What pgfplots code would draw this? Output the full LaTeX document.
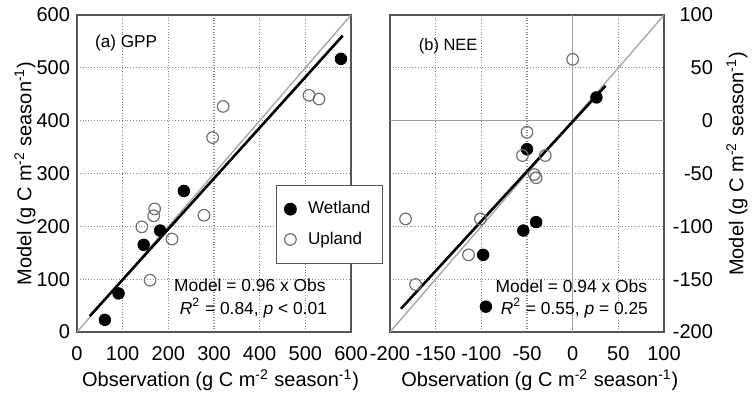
\documentclass[border=0pt]{standalone}
\usepackage{fontspec}
\setmainfont{Liberation Sans}
\usepackage{pgfplots}
\pgfplotsset{compat=1.18}
\definecolor{axgray}{HTML}{555555}
\definecolor{gridgray}{HTML}{8A8A8A}
\definecolor{onegray}{HTML}{A8A8A8}
\definecolor{opengray}{HTML}{707070}
\definecolor{zerogray}{HTML}{A0A0A0}

\begin{document}
\begin{tikzpicture}
\useasboundingbox (0,0) rectangle (376pt,198pt);
\pgfplotsset{
  panel/.style={
    scale only axis, width=137pt, height=158.5pt,
    anchor=south west,
    axis line style={axgray, line width=0.75pt},
    tick style={draw=none},
    grid=major, major grid style={gridgray, densely dotted, line width=0.55pt},
    /pgf/number format/assume math mode=true,
    tick label style={font=\fontsize{10}{12}\selectfont},
    label style={font=\fontsize{10}{12}\selectfont},
    xticklabel style={yshift=-3.5pt},
  },
  wet/.style={only marks, mark=*, mark size=2.9pt, mark options={fill=black, draw=black}},
  upl/.style={only marks, mark=o, mark size=2.9pt, mark options={draw=opengray, line width=0.6pt, fill=none}},
  oneone/.style={onegray, line width=0.7pt, forget plot},
  reg/.style={black, line width=1.3pt, forget plot},
}

% ---------------- (a) GPP ----------------
\begin{axis}[panel,
  at={(38.5pt,32pt)},
  xmin=0, xmax=600, ymin=0, ymax=600,
  xtick={0,100,...,600}, ytick={0,100,...,600},
  xlabel={Observation (g C m\textsuperscript{-2} season\textsuperscript{-1})},
  ylabel={Model (g C m\textsuperscript{-2} season\textsuperscript{-1})},
  xlabel style={at={(axis description cs:0.524,-0.151)}, anchor=center},
  ylabel style={at={(axis description cs:-0.19,0.5)}, anchor=center},
]
\addplot[oneone] coordinates {(0,0) (600,600)};
\addplot[reg] coordinates {(28,30) (582,561)};
\addplot[wet, forget plot] coordinates {
  (578,517) (234,267) (182,192) (146,165) (91,73) (61,23)
};
\addplot[upl, forget plot] coordinates {
  (320,427) (297,368) (508,448) (530,441) (142,199)
  (170,233) (168,220) (208,176) (278,221) (160,98)
};
\node[anchor=west, font=\fontsize{8.6}{10}\selectfont] at (axis description cs:0.04,0.912) {(a) GPP};
\node[anchor=east, font=\fontsize{8.7}{10}\selectfont] at (axis description cs:0.933,0.148) {Model = 0.96 x Obs};
\node[anchor=east, font=\fontsize{8.7}{10}\selectfont] at (axis description cs:0.938,0.076) {\textit{R}\textsuperscript{2} = 0.84, \textit{p} < 0.01};
\end{axis}

% ---------------- (b) NEE ----------------
\begin{axis}[panel,
  at={(195pt,32pt)},
  xmin=-200, xmax=100, ymin=-200, ymax=100,
  xtick={-200,-150,...,100}, ytick={-200,-150,...,100},
  yticklabel pos=right,
  yticklabel style={anchor=east, xshift=28pt},
  xlabel={Observation (g C m\textsuperscript{-2} season\textsuperscript{-1})},
  ylabel={Model (g C m\textsuperscript{-2} season\textsuperscript{-1})},
  xlabel style={at={(axis description cs:0.547,-0.151)}, anchor=center},
  ylabel style={at={(axis description cs:1.266,0.53)}, anchor=center, rotate=0},
  legend style={at={(axis description cs:-0.416,0.464)}, anchor=north west,
    draw=axgray, line width=0.6pt, fill=white,
    font=\fontsize{8.5}{10.5}\selectfont, row sep=3.5pt,
    inner xsep=4pt, inner ysep=6pt,
    /tikz/every odd column/.append style={column sep=4pt}},
  legend cell align=left,
]
\addlegendimage{wet}
\addlegendentry{Wetland}
\addlegendimage{upl}
\addlegendentry{Upland}
\addplot[zerogray, line width=0.6pt, forget plot] coordinates {(0,-200) (0,100)};
\addplot[zerogray, line width=0.6pt, forget plot] coordinates {(-200,0) (100,0)};
\addplot[oneone] coordinates {(-200,-200) (100,100)};
\addplot[reg] coordinates {(-188,-178) (36,33)};
\addplot[wet, forget plot] coordinates {
  (26,22) (-50,-27) (-54,-104) (-40,-96) (-98,-127) (-95,-176)
};
\addplot[upl, forget plot] coordinates {
  (0,58) (-50,-11) (-55,-33) (-30,-33) (-40,-54) (-42,-51)
  (-183,-93) (-101,-93) (-114,-127) (-172,-155)
};
\node[anchor=west, font=\fontsize{8.2}{10}\selectfont] at (axis description cs:0.08,0.90) {(b) NEE};
\node[anchor=east, font=\fontsize{8.7}{10}\selectfont] at (axis description cs:0.964,0.145) {Model = 0.94 x Obs};
\node[anchor=east, font=\fontsize{8.7}{10}\selectfont] at (axis description cs:0.967,0.076) {\textit{R}\textsuperscript{2} = 0.55, \textit{p} = 0.25};
\end{axis}
\end{tikzpicture}
\end{document}
